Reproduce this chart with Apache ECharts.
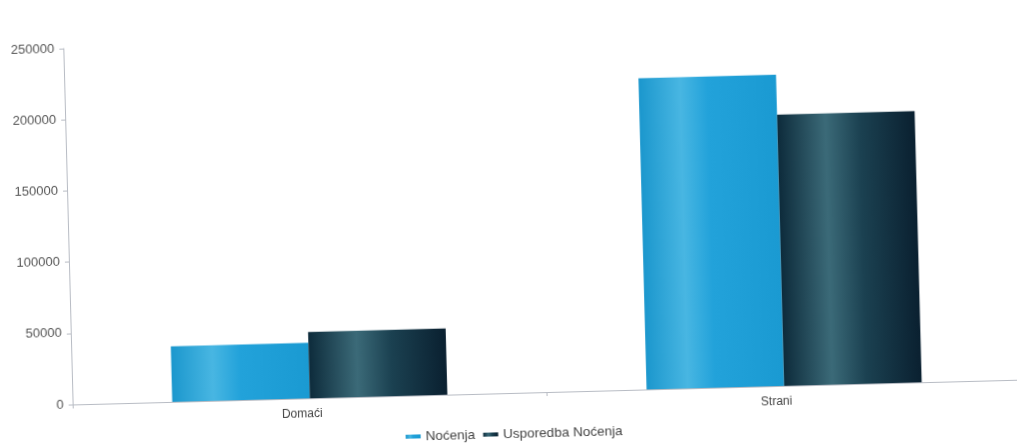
<!DOCTYPE html>
<html>
<head>
<meta charset="utf-8">
<script src="https://cdn.jsdelivr.net/npm/echarts@6/dist/echarts.min.js"></script>
<style>
html,body{margin:0;padding:0;background:#fff;overflow:hidden;}
#chart{width:1017px;height:443px;transform:rotate(-1.5deg);transform-origin:50% 50%;}
</style>
</head>
<body>
<div id="chart"></div>
<script>
const categories = ['Domaći', 'Strani'];
const seriesNames = ['Noćenja', 'Usporedba Noćenja'];
const nocenja = [39000, 218500];
const usporedba = [46500, 190500];
const yTicks = { min: 0, max: 250000, interval: 50000 };

const chart = echarts.init(document.getElementById('chart'));
const gradBlue = new echarts.graphic.LinearGradient(0, 0, 1, 0, [
  { offset: 0, color: '#1b97cd' },
  { offset: 0.3, color: '#48b6e2' },
  { offset: 0.5, color: '#22a2da' },
  { offset: 1, color: '#1a9ad2' }
]);
const gradDark = new echarts.graphic.LinearGradient(0, 0, 1, 0, [
  { offset: 0, color: '#0d2b3b' },
  { offset: 0.35, color: '#3b6a78' },
  { offset: 0.6, color: '#1b4151' },
  { offset: 1, color: '#0a2030' }
]);
chart.setOption({
  animation: false,
  textStyle: { fontFamily: 'Liberation Sans, Arial, sans-serif' },
  grid: { left: 68, top: 37, width: 952, bottom: 50, containLabel: false },
  legend: {
    data: seriesNames,
    bottom: -3,
    left: 'center',
    icon: 'rect',
    itemWidth: 15,
    itemHeight: 4,
    itemGap: 8,
    textStyle: { fontSize: 13.5, color: '#444' }
  },
  xAxis: {
    type: 'category',
    data: categories,
    axisLine: { lineStyle: { color: '#b8bcc4' } },
    axisTick: { show: true, length: 4, lineStyle: { color: '#b8bcc4' } },
    axisLabel: { fontSize: 12, color: '#444', margin: 10, padding: [0, 16, 0, 0] },
    splitLine: { show: false }
  },
  yAxis: {
    type: 'value',
    min: yTicks.min,
    max: yTicks.max,
    interval: yTicks.interval,
    axisLine: { show: true, lineStyle: { color: '#b8bcc4' } },
    axisTick: { show: true, length: 4, lineStyle: { color: '#b8bcc4' } },
    axisLabel: { fontSize: 13, color: '#555', margin: 9, formatter: function (v) { return String(v); } },
    splitLine: { show: false }
  },
  series: [
    { name: seriesNames[0], type: 'bar', data: nocenja, barGap: '0%', barCategoryGap: '42%', itemStyle: { color: gradBlue } },
    { name: seriesNames[1], type: 'bar', data: usporedba, barGap: '0%', barCategoryGap: '42%', itemStyle: { color: gradDark } }
  ]
});
</script>
</body>
</html>
